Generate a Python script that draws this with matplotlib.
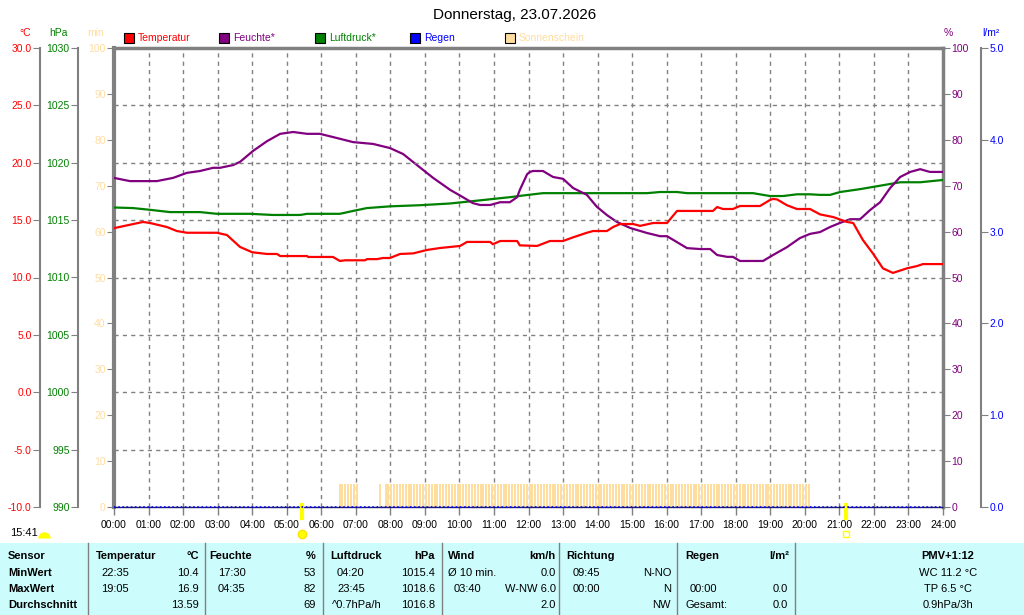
import numpy as np
import matplotlib
matplotlib.use('Agg')
import matplotlib.pyplot as plt
from matplotlib.patches import Rectangle
from matplotlib.lines import Line2D
from matplotlib.markers import MarkerStyle

plt.rcParams['font.family'] = ['Liberation Sans', 'DejaVu Sans']

# ---------------- data ----------------
title = "Donnerstag, 23.07.2026"
hour_labels = [f"{h:02d}:00" for h in range(25)]

temp_t = [0.00, 0.84, 1.04, 1.53, 1.82, 2.11, 2.98, 3.27, 3.65, 4.00, 4.43, 4.72, 4.81, 5.59,
          5.62, 6.34, 6.54, 6.69, 7.27, 7.32, 7.61, 7.79, 7.99, 8.28, 8.66, 9.06, 9.44, 10.02,
          10.22, 10.89, 10.97, 11.18, 11.67, 11.75, 12.25, 12.62, 13.00, 13.29, 13.69, 13.87,
          14.27, 14.45, 14.65, 15.03, 15.23, 15.61, 16.01, 16.30, 17.34, 17.46, 17.63, 17.92,
          18.12, 18.70, 18.99, 19.08, 19.20, 19.48, 19.77, 20.15, 20.44, 20.82, 21.22, 21.40,
          21.68, 21.97, 22.26, 22.55, 22.96, 23.25, 23.42, 24.00]
temp_v = [14.3, 14.84, 14.75, 14.4, 14.05, 13.9, 13.9, 13.7, 12.66, 12.2, 12.05, 12.05, 11.87, 11.87,
          11.79, 11.79, 11.44, 11.5, 11.5, 11.6, 11.6, 11.7, 11.7, 12.05, 12.1, 12.4, 12.57, 12.75,
          13.1, 13.1, 12.9, 13.18, 13.18, 12.8, 12.75, 13.18, 13.18, 13.5, 13.9, 14.05,
          14.05, 14.4, 14.66, 14.66, 14.5, 14.75, 14.75, 15.8, 15.8, 16.14, 15.97, 15.97,
          16.23, 16.23, 16.75, 16.85, 16.8, 16.3, 15.97, 15.97, 15.5, 15.27, 14.84, 14.75,
          13.27, 12.1, 10.8, 10.4, 10.8, 11.0, 11.17, 11.17]

hum_t = [0.00, 0.46, 1.24, 1.71, 2.11, 2.49, 2.87, 3.07, 3.45, 3.65, 4.03, 4.43, 4.81, 5.19,
         5.59, 5.96, 6.34, 6.92, 7.50, 7.99, 8.37, 8.77, 9.24, 9.73, 10.10, 10.39, 10.60, 10.89,
         11.18, 11.46, 11.67, 11.75, 11.96, 12.04, 12.13, 12.42, 12.71, 13.00, 13.29, 13.69,
         13.98, 14.27, 14.56, 14.94, 15.43, 15.81, 16.01, 16.30, 16.59, 16.97, 17.26, 17.46,
         17.75, 17.92, 18.12, 18.79, 19.08, 19.48, 19.86, 20.15, 20.44, 20.73, 21.02, 21.31,
         21.60, 21.89, 22.18, 22.47, 22.76, 23.05, 23.34, 23.62, 24.00]
hum_v = [71.7, 71.0, 71.0, 71.7, 72.8, 73.2, 73.9, 73.9, 74.5, 75.2, 77.6, 79.7, 81.3, 81.7,
         81.3, 81.3, 80.6, 79.5, 79.1, 78.2, 76.9, 74.5, 71.7, 69.1, 67.5, 66.2, 65.8, 65.8,
         66.4, 66.4, 67.5, 69.1, 72.5, 73.0, 73.2, 73.2, 71.9, 71.5, 69.5, 68.0,
         65.4, 63.6, 62.1, 60.8, 59.7, 59.0, 59.0, 57.7, 56.4, 56.2, 56.2, 54.9,
         54.5, 54.5, 53.6, 53.6, 54.9, 56.6, 58.6, 59.5, 59.9, 61.0, 61.9, 62.7,
         62.7, 64.7, 66.4, 69.5, 71.9, 73.0, 73.6, 73.0, 73.0]

pres_t = [0.0, 0.55, 1.04, 1.62, 2.49, 2.98, 3.94, 4.6, 5.39, 5.59, 6.54, 6.92, 7.32, 7.99,
          8.86, 9.73, 10.68, 11.46, 11.99, 12.42, 14.07, 15.43, 15.81, 16.30, 16.59, 18.50,
          18.99, 19.37, 19.77, 20.15, 20.44, 20.73, 21.02, 21.60, 22.18, 22.76, 23.34, 24.0]
pres_v = [1016.1, 1016.05, 1015.9, 1015.7, 1015.7, 1015.55, 1015.55, 1015.45, 1015.45, 1015.55,
          1015.55, 1015.8, 1016.05, 1016.2, 1016.3, 1016.45, 1016.75, 1017.0, 1017.2, 1017.35,
          1017.35, 1017.35, 1017.45, 1017.45, 1017.35, 1017.35, 1017.1, 1017.1, 1017.25, 1017.25,
          1017.2, 1017.2, 1017.45, 1017.7, 1018.0, 1018.3, 1018.3, 1018.5]

rain_t = [0.0, 24.0]
rain_v = [0.0, 0.0]

# sunshine: periods (start, end in hours) with 5 min of sun per 5-min slot
sun_periods = [(6.5, 7.0), (7 + 40/60, 7 + 40/60), (7 + 50/60, 20 + 5/60)]
sun_minutes = 5
sun_slot_h = 5 / 60
sun_t = []
for a, b in sun_periods:
    n = int(round((b - a) / sun_slot_h)) + 1
    sun_t += [a + i * sun_slot_h for i in range(n)]
sun_v = [sun_minutes] * len(sun_t)

sunrise_h = 5.45
sunset_h = 21.2

temp_ticks = [30, 25, 20, 15, 10, 5, 0, -5, -10]
pres_ticks = [1030, 1025, 1020, 1015, 1010, 1005, 1000, 995, 990]
min_ticks = list(range(0, 101, 10))
hum_ticks = list(range(0, 101, 10))
rain_ticks = [0, 1, 2, 3, 4, 5]

legend_items = [("Temperatur", "#ff0000", 124), ("Feuchte*", "#800080", 219),
                ("Luftdruck*", "#008000", 315), ("Regen", "#0000ff", 410),
                ("Sonnenschein", "#ffdd9e", 505)]

table_headers = [("Sensor", 8, 'left'), ("Temperatur", 96, 'left'), ("°C", 199, 'right'),
                 ("Feuchte", 209, 'left'), ("%", 316, 'right'), ("Luftdruck", 330, 'left'),
                 ("hPa", 435, 'right'), ("Wind", 448, 'left'), ("km/h", 556, 'right'),
                 ("Richtung", 566, 'left'), ("Regen", 685, 'left'), ("l/m²", 789, 'right'),
                 ("PMV+1:12", 948, 'center')]
row_labels = ["MinWert", "MaxWert", "Durchschnitt"]
table_cells = [
    [("22:35", 101, 'left'), ("10.4", 199, 'right'), ("17:30", 218, 'left'), ("53", 316, 'right'),
     ("04:20", 337, 'left'), ("1015.4", 435, 'right'), ("Ø 10 min.", 448, 'left'), ("0.0", 556, 'right'),
     ("09:45", 573, 'left'), ("N-NO", 671, 'right'), ("WC 11.2 °C", 948, 'center')],
    [("19:05", 101, 'left'), ("16.9", 199, 'right'), ("04:35", 218, 'left'), ("82", 316, 'right'),
     ("23:45", 337, 'left'), ("1018.6", 435, 'right'), ("03:40", 454, 'left'), ("W-NW 6.0", 556, 'right'),
     ("00:00", 573, 'left'), ("N", 671, 'right'), ("00:00", 690, 'left'), ("0.0", 788, 'right'),
     ("TP 6.5 °C", 948, 'center')],
    [("13.59", 199, 'right'), ("69", 316, 'right'), ("^0.7hPa/h", 332, 'left'), ("1016.8", 435, 'right'),
     ("2.0", 556, 'right'), ("NW", 671, 'right'), ("Gesamt:", 685, 'left'), ("0.0", 788, 'right'),
     ("0.9hPa/3h", 948, 'center')],
]
table_row_y = [556, 572.5, 589, 605]
table_sep_x = [88, 205, 323, 442, 559, 677, 795]

# ---------------- figure ----------------
W, H = 1024, 615
fig = plt.figure(figsize=(W / 100, H / 100), dpi=100)
fig.patch.set_facecolor('white')

def fx(x):
    return x / W

def fy(y):
    return 1 - y / H

L, R, T, B = 114, 943, 48, 507
ax = fig.add_axes([fx(L), fy(B), (R - L) / W, (B - T) / H])
GRAY = '#808080'
C_T, C_H, C_P, C_R, C_S = '#ff0000', '#800080', '#008000', '#0000ff', '#ffdd9e'
FS = 7.5
LW = 1.6

ax.set_xlim(0, 24)
ax.set_ylim(0, 100)
ax.set_xticks(range(25))
ax.set_xticklabels(hour_labels, fontsize=FS, color='black')
ax.tick_params(axis='x', direction='out', length=6, color=GRAY, width=1, pad=3)
ax.set_yticks(min_ticks)
ax.set_yticklabels([str(v) for v in min_ticks], fontsize=FS)
ax.tick_params(axis='y', direction='out', length=5, color=GRAY, labelcolor=C_S, pad=1)
ax.xaxis.grid(True, color=GRAY, linestyle=(0, (3, 3)), linewidth=1)
ax.set_axisbelow(True)
for s in ['top', 'left', 'right']:
    ax.spines[s].set_color(GRAY)
ax.spines['top'].set_linewidth(2.5)
ax.spines['left'].set_linewidth(3)
ax.spines['right'].set_linewidth(2.5)
ax.spines['bottom'].set_color('#202060')
ax.spines['bottom'].set_linewidth(1)

ax.bar(sun_t, sun_v, width=2.0 / 34.54, align='edge', color=C_S, zorder=2, linewidth=0)

def twin(pos, color, ticks, ylim, fmt, side):
    a = ax.twinx()
    a.set_ylim(*ylim)
    for s in a.spines.values():
        s.set_visible(False)
    sp = a.spines[side]
    sp.set_visible(True)
    sp.set_color(GRAY)
    sp.set_linewidth(1.5)
    sp.set_position(('axes', pos))
    if side == 'left':
        a.yaxis.tick_left()
    else:
        a.yaxis.tick_right()
    a.set_yticks(ticks)
    a.set_yticklabels([fmt(v) for v in ticks], fontsize=FS)
    a.tick_params(axis='y', direction='out', length=5, color=GRAY, labelcolor=color, pad=1)
    a.patch.set_visible(False)
    return a

ax_t = twin((40 - L) / (R - L), C_T, temp_ticks, (-10, 30), lambda v: f"{v:.1f}", 'left')
ax_p = twin((78 - L) / (R - L), C_P, pres_ticks, (990, 1030), lambda v: f"{v}", 'left')
ax_h = twin(1.0, C_H, hum_ticks, (0, 100), lambda v: f"{v}", 'right')
ax_h.spines['right'].set_visible(False)
ax_r = twin((981 - L) / (R - L), C_R, rain_ticks, (0, 5), lambda v: f"{v:.1f}", 'right')

ax_t.yaxis.grid(True, color=GRAY, linestyle=(0, (3, 3)), linewidth=1)

ax_r.plot(rain_t, rain_v, color=C_R, linestyle=(0, (1, 1.5)), linewidth=1.2, clip_on=False, zorder=5)
ax_p.plot(pres_t, pres_v, color=C_P, linewidth=LW)
ax_h.plot(hum_t, hum_v, color=C_H, linewidth=LW)
ax_t.plot(temp_t, temp_v, color=C_T, linewidth=LW)
ax_t.set_zorder(ax_h.get_zorder() + 1)
ax_t.patch.set_visible(False)

# sunrise / sunset markers
tr = ax.get_xaxis_transform()
for h_ in (sunrise_h, sunset_h):
    ax.add_line(Line2D([h_, h_], [0.004, -0.024], transform=tr, color='#ffff00', linewidth=3,
                       clip_on=False, zorder=6))

# title and axis unit labels
fig.text(fx(515), fy(15), title, fontsize=11, ha='center', va='center', color='black')
unit_labels = [("°C", 25, C_T), ("hPa", 58, C_P), ("min", 96, C_S), ("%", 948, C_H), ("l/m²", 991, C_R)]
for txt, x, c in unit_labels:
    fig.text(fx(x), fy(33), txt, fontsize=FS, ha='center', va='center', color=c)

for txt, c, x in legend_items:
    fig.patches.append(Rectangle((fx(x), fy(43)), 10 / W, 10 / H, transform=fig.transFigure,
                                 facecolor=c, edgecolor='black', linewidth=0.8))
    fig.text(fx(x + 14), fy(38), txt, fontsize=FS, ha='left', va='center', color=c)

# current time + sun icons
fig.text(fx(10), fy(533), "15:41", fontsize=8, ha='left', va='center', color='black')
fig.lines.append(Line2D([fx(44)], [fy(538)], marker=MarkerStyle('o', fillstyle='top'), markersize=9,
                        markerfacecolor='#ffff00', markerfacecoloralt='none', markeredgecolor='none',
                        linestyle='none', transform=fig.transFigure))
fig.lines.append(Line2D([fx(302)], [fy(534)], marker='o', markersize=6, color='#ffff00',
                        markeredgecolor='#ffe000', linestyle='none', transform=fig.transFigure))
fig.patches.append(Rectangle((fx(843), fy(537)), 6 / W, 6 / H, transform=fig.transFigure,
                             facecolor='none', edgecolor='#ffff00', linewidth=1))

# bottom table
fig.patches.append(Rectangle((0, 0), 1, fy(543), transform=fig.transFigure,
                             facecolor='#ccfcfc', edgecolor='none', zorder=0))
for x in table_sep_x:
    fig.lines.append(Line2D([fx(x), fx(x)], [fy(543), 0], color=GRAY, linewidth=1,
                            transform=fig.transFigure))
TFS = 8
for txt, x, ha in table_headers:
    fig.text(fx(x), fy(table_row_y[0]), txt, fontsize=TFS, fontweight='bold', ha=ha, va='center')
for i, lab in enumerate(row_labels):
    fig.text(fx(8), fy(table_row_y[i + 1]), lab, fontsize=TFS, fontweight='bold', ha='left', va='center')
    for txt, x, ha in table_cells[i]:
        fig.text(fx(x), fy(table_row_y[i + 1]), txt, fontsize=TFS, ha=ha, va='center')

fig.savefig('out.png', dpi=100)
